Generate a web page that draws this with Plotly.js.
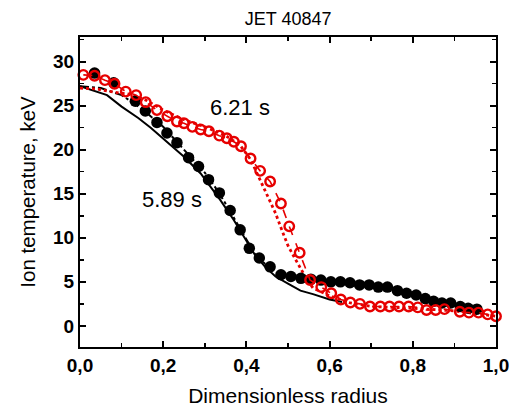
<!DOCTYPE html>
<html><head><meta charset="utf-8">
<script src="https://cdn.plot.ly/plotly-3.0.1.min.js"></script>
<style>html,body{margin:0;padding:0;background:#fff}#chart{width:523px;height:409px}</style>
</head><body><div id="chart"></div>
<script>
// Measured 5.89 s (black filled circles)
const blackX = [0.035,0.081,0.133,0.157,0.185,0.209,0.233,0.261,0.285,0.309,0.335,0.361,0.385,0.407,0.431,0.457,0.483,0.507,0.531,0.555,0.579,0.603,0.626,0.649,0.672,0.695,0.717,0.739,0.763,0.785,0.808,0.83,0.85,0.87,0.891,0.914,0.933,0.954];
const blackY = [28.7,27.6,25.5,24.4,23.1,21.9,20.8,19.1,18.1,16.6,15.1,13.1,10.9,8.8,7.7,6.7,5.8,5.6,5.4,5.3,5.2,5.0,5.0,4.9,4.65,4.65,4.4,4.4,4.0,3.7,3.5,3.1,2.8,2.6,2.6,2.2,2.0,1.9];
// Model 5.89 s (black solid)
const solidX = [0,0.037,0.065,0.1,0.14,0.17,0.2,0.25,0.29,0.337,0.37,0.4,0.42,0.445,0.47,0.5,0.53,0.56,0.6,0.63];
const solidY = [27.2,26.6,26.2,24.9,23.6,22.5,21.3,19.2,17.3,14.3,12.0,9.7,8.1,6.7,5.6,4.8,4.0,3.6,3.0,2.7];
// Model 5.89 s (black dash-dot)
const dashX = [0,0.05,0.1,0.15,0.2,0.25,0.3,0.33,0.36,0.39,0.42,0.45];
const dashY = [27.2,27.0,26.2,24.6,22.6,20.0,17.4,15.4,13.1,10.6,8.2,6.8];
// Measured 6.21 s (red open circles)
const redX = [0.008,0.035,0.06,0.083,0.11,0.135,0.158,0.185,0.21,0.233,0.25,0.27,0.29,0.31,0.335,0.353,0.37,0.387,0.41,0.433,0.457,0.483,0.503,0.528,0.553,0.58,0.604,0.627,0.65,0.673,0.697,0.722,0.744,0.767,0.79,0.812,0.833,0.855,0.876,0.913,0.935,0.958,0.98,1.0];
const redY = [28.5,28.4,27.9,27.5,26.6,26.2,25.4,24.5,23.8,23.2,23.0,22.6,22.3,22.1,21.6,21.3,20.9,20.4,19.0,17.6,16.4,13.9,11.3,8.3,5.2,4.4,3.7,3.0,2.65,2.5,2.2,2.2,2.2,2.2,2.2,2.1,1.8,1.8,1.9,1.6,1.5,1.5,1.3,1.1];
// Model 6.21 s (red dotted)
const dotX = [0,0.04,0.085,0.12,0.16,0.2,0.25,0.3,0.35,0.385,0.41,0.425,0.44,0.455,0.47,0.485,0.5,0.515,0.53,0.545,0.56,0.6,0.65,0.7,0.8,0.9,1.0];
const dotY = [27.0,26.9,26.5,26.3,25.6,24.5,23.4,22.6,21.6,20.5,18.9,17.4,16.0,14.4,12.8,10.9,9.1,7.8,6.6,5.3,4.3,3.4,2.6,2.2,2.0,1.7,1.1];
const xTickVals = [0,0.2,0.4,0.6,0.8,1.0];
const yTickVals = [0,5,10,15,20,25,30];
const labels = ["6.21 s","5.89 s"];

const RED = 'rgb(230,0,0)';
const FONT = 'Liberation Sans, Arial, sans-serif';
const traces = [
  {x: solidX, y: solidY, mode:'lines', line:{color:'black', width:2}},
  {x: dashX, y: dashY, mode:'lines', line:{color:'black', width:2, dash:'dashdot'}},
  {x: dotX, y: dotY, mode:'lines', line:{color:RED, width:2.8, dash:'dot'}},
  {x: blackX, y: blackY, mode:'markers', marker:{color:'black', size:11.5, symbol:'circle'}, cliponaxis:false},
  {x: redX, y: redY, mode:'lines+markers', line:{color:RED, width:1.6, dash:'dash'},
   marker:{color:RED, size:9.5, symbol:'circle-open', line:{color:RED, width:2.4}}, cliponaxis:false}
];
const tickFont = {family:FONT, size:19, color:'black', weight:'bold'};
const layout = {
  width:523, height:409, showlegend:false,
  paper_bgcolor:'white', plot_bgcolor:'white',
  separators: ',.',
  margin:{l:80, r:27, t:37, b:62},
  title:{text:'JET 40847', x:0.551, xanchor:'center', y:0.955, yanchor:'middle', font:{family:FONT, size:18, color:'black'}},
  xaxis:{range:[0,1.0], tickvals:xTickVals, tickformat:'.1f', ticks:'inside', ticklen:6, tickwidth:2, tickcolor:'black',
    showline:true, linewidth:2, linecolor:'black', mirror:'ticks', showgrid:false, zeroline:false,
    minor:{ticks:'inside', dtick:0.1, tick0:0, ticklen:4, tickwidth:1.5, tickcolor:'black'},
    tickfont:tickFont,
    title:{text:'Dimensionless radius', standoff:14, font:{family:FONT, size:21, color:'black'}}},
  yaxis:{range:[-2.4,32.8], tickvals:yTickVals, ticks:'inside', ticklen:6, tickwidth:2, tickcolor:'black',
    showline:true, linewidth:2, linecolor:'black', mirror:'ticks', showgrid:false, zeroline:false,
    minor:{ticks:'inside', dtick:2.5, tick0:0, ticklen:4, tickwidth:1.5, tickcolor:'black'},
    tickfont:tickFont,
    title:{text:'Ion temperature, keV', standoff:12, font:{family:FONT, size:20.5, color:'black'}}},
  annotations:[
    {x:0.385, y:24.8, text:labels[0], showarrow:false, font:{family:FONT, size:22, color:'black'}},
    {x:0.222, y:14.3, text:labels[1], showarrow:false, font:{family:FONT, size:22, color:'black'}}
  ]
};
Plotly.newPlot('chart', traces, layout, {displayModeBar:false, staticPlot:true});
</script></body></html>
